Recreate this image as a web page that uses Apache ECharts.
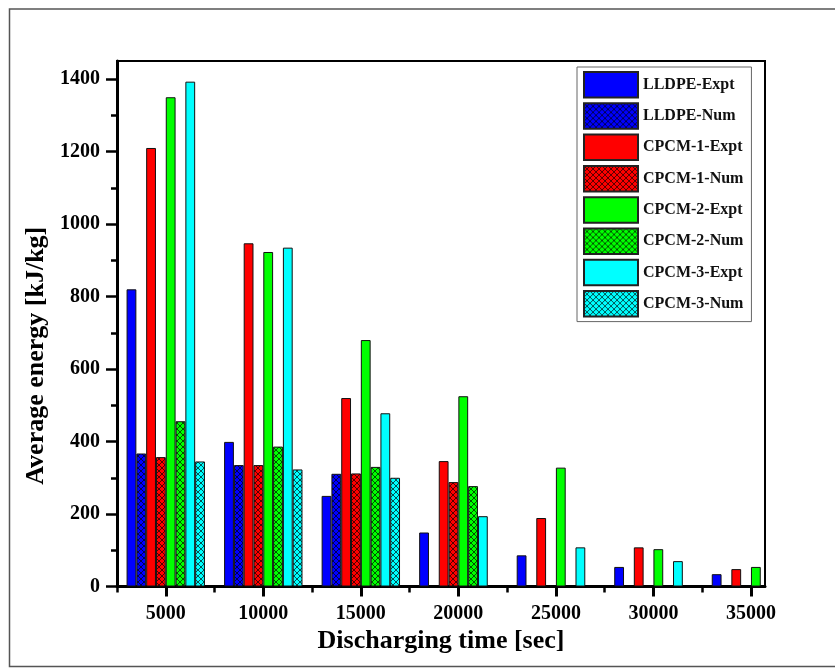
<!DOCTYPE html>
<html>
<head>
<meta charset="utf-8">
<script src="https://cdn.jsdelivr.net/npm/echarts@6/dist/echarts.min.js"></script>
<style>
  html, body { margin: 0; padding: 0; background: #fff; }
  #chart { width: 835px; height: 668px; }
</style>
</head>
<body>
<div id="chart"></div>
<script>
// Discharging times (sec) at which the average energy was evaluated
const dischargeTimes = [5000, 10000, 15000, 20000, 25000, 30000, 35000];

// Average energy (kJ/kg) for each material, experiment vs. numerical
const lldpeExpt = [820, 399, 250, 149, 86, 54, 34];
const lldpeNum  = [367, 335, 311, null, null, null, null];
const cpcm1Expt = [1210, 947, 520, 346, 189, 108, 48];
const cpcm1Num  = [357, 335, 312, 288, null, null, null];
const cpcm2Expt = [1350, 923, 680, 525, 328, 103, 54];
const cpcm2Num  = [456, 386, 330, 277, null, null, null];
const cpcm3Expt = [1393, 935, 478, 194, 108, 70, null];
const cpcm3Num  = [345, 323, 300, null, null, null, null];

// Axis tick values
const xMajorTicks = [5000, 10000, 15000, 20000, 25000, 30000, 35000];
const xMinorTicks = [2500, 7500, 12500, 17500, 22500, 27500, 32500];
const yMajorTicks = [0, 200, 400, 600, 800, 1000, 1200, 1400];
const yMinorTicks = [100, 300, 500, 700, 900, 1100, 1300];

const FONT = '"Liberation Serif", "Times New Roman", serif';

// Crosshatch fill used for the numerical results
function hatch(base) {
  const c = document.createElement('canvas');
  const s = 6;
  c.width = s; c.height = s;
  const g = c.getContext('2d');
  g.fillStyle = base;
  g.fillRect(0, 0, s, s);
  g.strokeStyle = 'rgba(0,0,0,0.85)';
  g.lineWidth = 0.8;
  for (const k of [-s, 0, s]) {
    g.beginPath(); g.moveTo(k, 0); g.lineTo(k + s, s); g.stroke();
    g.beginPath(); g.moveTo(k + s, 0); g.lineTo(k, s); g.stroke();
  }
  return { image: c, repeat: 'repeat' };
}

const seriesDefs = [
  { name: 'LLDPE-Expt',  values: lldpeExpt, color: '#0000ff', hatched: false },
  { name: 'LLDPE-Num',   values: lldpeNum,  color: '#0000ff', hatched: true },
  { name: 'CPCM-1-Expt', values: cpcm1Expt, color: '#ff0000', hatched: false },
  { name: 'CPCM-1-Num',  values: cpcm1Num,  color: '#ff0000', hatched: true },
  { name: 'CPCM-2-Expt', values: cpcm2Expt, color: '#00ff00', hatched: false },
  { name: 'CPCM-2-Num',  values: cpcm2Num,  color: '#00ff00', hatched: true },
  { name: 'CPCM-3-Expt', values: cpcm3Expt, color: '#00ffff', hatched: false },
  { name: 'CPCM-3-Num',  values: cpcm3Num,  color: '#00ffff', hatched: true }
];

const chart = echarts.init(document.getElementById('chart'), null, { renderer: 'canvas' });

const axisLabelStyle = {
  color: '#000', fontFamily: FONT, fontWeight: 'bold', fontSize: 20,
  formatter: v => String(v)
};

const xBase = { type: 'value', min: 2500, max: 35720, gridIndex: 0, position: 'bottom', splitLine: { show: false } };
const yBase = { type: 'value', min: 0, max: 1450, gridIndex: 0, position: 'left', splitLine: { show: false } };

chart.setOption({
  animation: false,
  backgroundColor: '#ffffff',
  graphic: [{
    type: 'rect',
    silent: true,
    shape: { x: 9.5, y: 9, width: 900, height: 657.5 },
    style: { fill: 'none', stroke: '#555', lineWidth: 1.5 }
  }],
  grid: {
    left: 117, top: 61, right: 70, bottom: 81.5,
    show: true, borderColor: '#000', borderWidth: 2, backgroundColor: 'transparent'
  },
  legend: {
    orient: 'vertical',
    left: 577, top: 67,
    padding: [4, 8, 4, 6],
    itemWidth: 54, itemHeight: 25.5, itemGap: 3.8,
    borderColor: '#666', borderWidth: 1,
    icon: 'rect',
    itemStyle: { borderColor: '#222', borderWidth: 2 },
    textStyle: { color: '#111', fontFamily: FONT, fontWeight: 'bold', fontSize: 16 },
    data: seriesDefs.map(d => d.name)
  },
  xAxis: [
    Object.assign({}, xBase, {
      name: 'Discharging time [sec]',
      nameLocation: 'middle',
      nameGap: 36,
      nameTextStyle: { color: '#000', fontFamily: FONT, fontWeight: 'bold', fontSize: 26 },
      axisLine: { show: true, lineStyle: { color: '#000', width: 3 } },
      axisTick: { show: true, length: 10, lineStyle: { color: '#000', width: 3 }, customValues: xMajorTicks },
      axisLabel: Object.assign({ margin: 17, customValues: xMajorTicks }, axisLabelStyle)
    }),
    Object.assign({}, xBase, {
      axisLine: { show: false },
      axisTick: { show: true, length: 6, lineStyle: { color: '#000', width: 2.5 }, customValues: xMinorTicks },
      axisLabel: { show: false }
    })
  ],
  yAxis: [
    Object.assign({}, yBase, {
      name: 'Average energy [kJ/kg]',
      nameLocation: 'middle',
      nameGap: 54,
      nameTextStyle: { color: '#000', fontFamily: FONT, fontWeight: 'bold', fontSize: 26, padding: [0, 64, 0, 0] },
      axisLine: { show: true, lineStyle: { color: '#000', width: 3 } },
      axisTick: { show: true, length: 11, lineStyle: { color: '#000', width: 2.5 }, customValues: yMajorTicks },
      axisLabel: Object.assign({ margin: 17, customValues: yMajorTicks }, axisLabelStyle)
    }),
    Object.assign({}, yBase, {
      axisLine: { show: false },
      axisTick: { show: true, length: 6, lineStyle: { color: '#000', width: 2.5 }, customValues: yMinorTicks },
      axisLabel: { show: false }
    })
  ],
  series: seriesDefs.map(d => ({
    name: d.name,
    type: 'bar',
    xAxisIndex: 0,
    yAxisIndex: 0,
    barWidth: 9.8,
    barGap: '0%',
    clip: true,
    itemStyle: {
      color: d.hatched ? hatch(d.color) : d.color,
      borderColor: '#111',
      borderWidth: 1
    },
    emphasis: { disabled: true },
    data: dischargeTimes.map((t, i) => [t, d.values[i]])
  }))
});
</script>
</body>
</html>
